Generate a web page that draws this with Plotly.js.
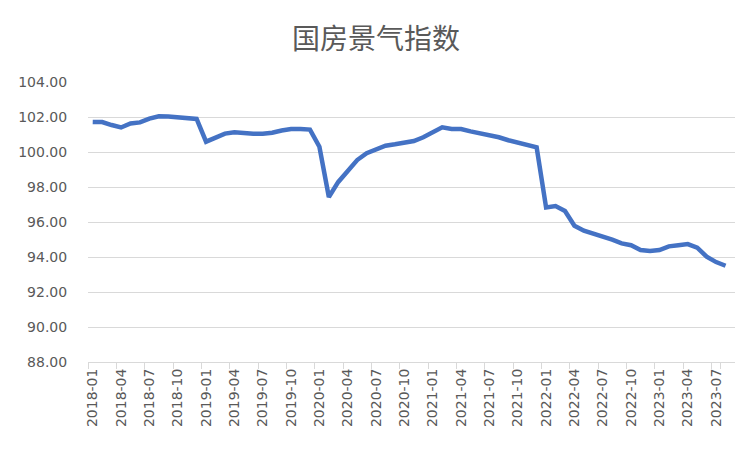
<!DOCTYPE html>
<html>
<head>
<meta charset="utf-8">
<script src="https://cdn.plot.ly/plotly-3.0.1.min.js"></script>
<style>
  html, body { margin: 0; padding: 0; background: #fff; }
  #chart { width: 752px; height: 452px; }
</style>
</head>
<body>
<div id="chart"></div>
<script>
// months on the category axis
let months = [
    '2018-01','2018-02','2018-03','2018-04','2018-05','2018-06','2018-07','2018-08','2018-09','2018-10','2018-11','2018-12',
    '2019-01','2019-02','2019-03','2019-04','2019-05','2019-06','2019-07','2019-08','2019-09','2019-10','2019-11','2019-12',
    '2020-01','2020-02','2020-03','2020-04','2020-05','2020-06','2020-07','2020-08','2020-09','2020-10','2020-11','2020-12',
    '2021-01','2021-02','2021-03','2021-04','2021-05','2021-06','2021-07','2021-08','2021-09','2021-10','2021-11','2021-12',
    '2022-01','2022-02','2022-03','2022-04','2022-05','2022-06','2022-07','2022-08','2022-09','2022-10','2022-11','2022-12',
    '2023-01','2023-02','2023-03','2023-04','2023-05','2023-06','2023-07','2023-08'
];

// index values
let climateIndex = [
    101.72, 101.71, 101.54, 101.40, 101.63, 101.69, 101.91, 102.04, 102.03, 101.97, 101.96, 101.89,
    100.59, 100.82, 101.05, 101.13, 101.07, 101.05, 101.05, 101.10, 101.23, 101.31, 101.32, 101.28,
    100.30, 97.43, 98.29, 98.90, 99.54, 99.93, 100.15, 100.36, 100.44, 100.53, 100.63, 100.84,
    101.13, 101.41, 101.31, 101.31, 101.18, 101.07, 100.95, 100.84, 100.67, 100.53, 100.40, 100.27,
    96.83, 96.91, 96.63, 95.79, 95.50, 95.35, 95.18, 94.99, 94.78, 94.67, 94.40, 94.34,
    94.40, 94.61, 94.67, 94.74, 94.53, 94.02, 93.71, 93.50
];

// labelled months (every third)
let tickMonths = [
    '2018-01','2018-04','2018-07','2018-10','2019-01','2019-04','2019-07','2019-10',
    '2020-01','2020-04','2020-07','2020-10','2021-01','2021-04','2021-07','2021-10',
    '2022-01','2022-04','2022-07','2022-10','2023-01','2023-04','2023-07'
];

let yTicks = [88, 90, 92, 94, 96, 98, 100, 102, 104];

let textColor = '#595959';
let gridColor = '#d9d9d9';

let trace = {
    x: months,
    y: climateIndex,
    type: 'scatter',
    mode: 'lines',
    line: { color: '#4472C4', width: 4.5 },
    hoverinfo: 'x+y'
};

let layout = {
    width: 752,
    height: 452,
    paper_bgcolor: '#ffffff',
    plot_bgcolor: '#ffffff',
    margin: { l: 88, r: 17, t: 82, b: 90 },
    showlegend: false,
    font: { family: 'DejaVu Sans, sans-serif', size: 14, color: textColor },
    title: {
        text: '国房景气指数',
        font: { family: 'Noto Sans CJK SC, sans-serif', size: 28, color: textColor },
        x: 0.5,
        xanchor: 'center',
        y: 0.914,
        yanchor: 'middle'
    },
    xaxis: {
        type: 'category',
        range: [-0.5, 68],
        tickmode: 'array',
        tickvals: tickMonths,
        ticktext: tickMonths,
        tickson: 'boundaries',
        tickangle: -90,
        ticks: 'outside',
        ticklen: 6,
        tickcolor: gridColor,
        showgrid: false,
        showline: true,
        linecolor: gridColor,
        linewidth: 1,
        zeroline: false,
        tickfont: { family: 'DejaVu Sans, sans-serif', size: 14, color: textColor }
    },
    yaxis: {
        range: [88, 104],
        tickmode: 'array',
        tickvals: yTicks,
        tickformat: '.2f',
        ticks: 'outside',
        ticklen: 17,
        tickcolor: 'rgba(0,0,0,0)',
        showgrid: true,
        gridcolor: gridColor,
        gridwidth: 1,
        showline: false,
        zeroline: false,
        tickfont: { family: 'DejaVu Sans, sans-serif', size: 14, color: textColor }
    }
};

Plotly.newPlot('chart', [trace], layout, { displayModeBar: false, staticPlot: true });
</script>
</body>
</html>
